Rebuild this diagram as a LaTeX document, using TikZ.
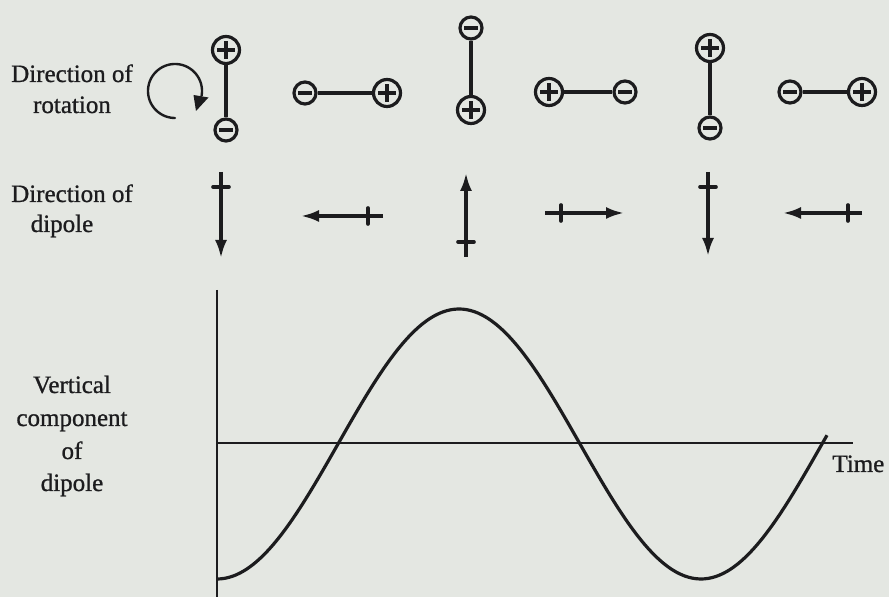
\documentclass[tikz,border=0pt]{standalone}
\usepackage{fontspec}
\setmainfont{Liberation Serif}
\newfontfamily\labfont{Liberation Serif}[FakeBold=0.9]
\usetikzlibrary{arrows.meta}
\definecolor{paper}{RGB}{228,231,226}
\definecolor{ink}{RGB}{28,28,30}
\begin{document}
\begin{tikzpicture}[x=0.5pt, y=-0.5pt,
  pole/.style={circle, draw=ink, line width=1.6pt, inner sep=0pt, fill=paper},
  pplus/.style={pole, minimum size=13.5pt,
    path picture={
      \draw[ink, line width=2.1pt] ([xshift=-4.3pt]path picture bounding box.center) -- ([xshift=4.3pt]path picture bounding box.center);
      \draw[ink, line width=2.1pt] ([yshift=-4.3pt]path picture bounding box.center) -- ([yshift=4.3pt]path picture bounding box.center);}},
  pminus/.style={pole, minimum size=11pt,
    path picture={
      \draw[ink, line width=2.1pt] ([xshift=-3.3pt]path picture bounding box.center) -- ([xshift=3.3pt]path picture bounding box.center);}},
  bond/.style={ink, line width=1.6pt},
  dip/.style={ink, line width=1.6pt, -{Latex[length=9pt,width=6pt]}},
  crossbar/.style={ink, line width=1.8pt, line cap=round},
  lab/.style={font=\labfont\fontsize{12.5}{15}\selectfont, text=ink, inner sep=0pt, anchor=base},
  axis/.style={ink, line width=1pt},
  wave/.style={ink, line width=1.6pt, line join=round}
]
\useasboundingbox[fill=paper] (0,0) rectangle (889,597);

% ---------- labels ----------
\node[lab] (r1) at (72,82) {Direction of};
\node[lab] (r2) at (72,113) {rotation};
\node[lab] (d1) at (72,202) {Direction of};
\node[lab] (d2) at (62,232) {dipole};
\node[lab] (v1) at (72,393) {Vertical};
\node[lab] (v2) at (72,426) {component};
\node[lab] (v3) at (72,459) {of};
\node[lab] (v4) at (72,491) {dipole};
\node[lab, anchor=base west] (time) at (832,472) {Time};

% ---------- rotation arrow ----------
\draw[ink, line width=1.2pt, line cap=round]
  plot[domain=90:370, samples=90] ({175+27*cos(\x)},{91+27*sin(\x)});
\fill[ink] (196,111) -- (193.5,95) -- (208.5,97.5) -- cycle;

% ---------- dipoles ----------
\node[pplus]  (p1) at (226,50) {};
\node[pminus] (m1) at (226,130) {};
\draw[bond] (p1) -- (m1);

\node[pminus] (m2) at (305,93) {};
\node[pplus]  (p2) at (387,93) {};
\draw[bond] (m2) -- (p2);

\node[pminus] (m3) at (471,28) {};
\node[pplus]  (p3) at (471,110) {};
\draw[bond] (m3) -- (p3);

\node[pplus]  (p4) at (549,92) {};
\node[pminus] (m4) at (625,92) {};
\draw[bond] (p4) -- (m4);

\node[pplus]  (p5) at (710,48) {};
\node[pminus] (m5) at (710,128) {};
\draw[bond] (p5) -- (m5);

\node[pminus] (m6) at (790,92) {};
\node[pplus]  (p6) at (862,92) {};
\draw[bond] (m6) -- (p6);

% ---------- dipole direction arrows ----------
\coordinate (t1) at (221,172); \coordinate (h1) at (221,258); \coordinate (c1) at (221,187);
\draw[dip] (t1) -- (h1);
\draw[crossbar] ([xshift=-4pt]c1) -- ([xshift=4pt]c1);

\coordinate (t2) at (383,216); \coordinate (h2) at (301,216); \coordinate (c2) at (368,216);
\draw[dip] (t2) -- (h2);
\draw[crossbar] ([yshift=-4pt]c2) -- ([yshift=4pt]c2);

\coordinate (t3) at (466,257); \coordinate (h3) at (466,173); \coordinate (c3) at (466,242);
\draw[dip] (t3) -- (h3);
\draw[crossbar] ([xshift=-4pt]c3) -- ([xshift=4pt]c3);

\coordinate (t4) at (545,213); \coordinate (h4) at (624,213); \coordinate (c4) at (561,213);
\draw[dip] (t4) -- (h4);
\draw[crossbar] ([yshift=-4pt]c4) -- ([yshift=4pt]c4);

\coordinate (t5) at (708,172); \coordinate (h5) at (708,256); \coordinate (c5) at (708,187);
\draw[dip] (t5) -- (h5);
\draw[crossbar] ([xshift=-4pt]c5) -- ([xshift=4pt]c5);

\coordinate (t6) at (862,213); \coordinate (h6) at (783,213); \coordinate (c6) at (848,213);
\draw[dip] (t6) -- (h6);
\draw[crossbar] ([yshift=-4pt]c6) -- ([yshift=4pt]c6);

% ---------- graph ----------
\coordinate (ytop) at (217,290);
\coordinate (ybot) at (217,597);
\coordinate (orig) at (217,443);
\coordinate (xend) at (853,443);
\draw[axis] (ytop) -- (ybot);
\draw[axis] (orig) -- (xend);
\draw[wave] plot[domain=217:827, samples=160, smooth] (\x,{444-135*sin((\x-338)/484*360)});
\end{tikzpicture}
\end{document}
